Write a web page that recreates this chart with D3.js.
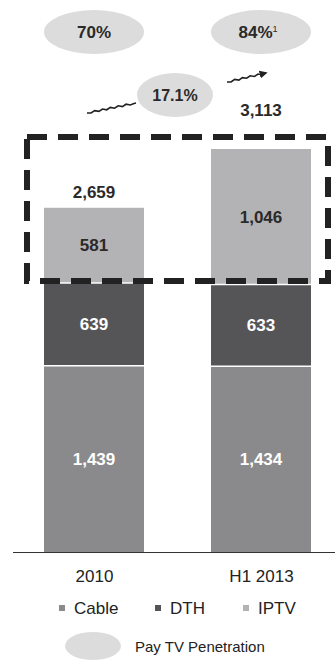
<!DOCTYPE html>
<html>
<head>
<meta charset="utf-8">
<script src="https://cdn.jsdelivr.net/npm/d3@7"></script>
<style>
  html, body { margin: 0; padding: 0; background: #fff; }
  svg { display: block; font-family: "Liberation Sans", Arial, sans-serif; }
</style>
</head>
<body>
<svg id="chart" width="335" height="664"></svg>
<script>
// Pay TV subscribers (thousands) by platform
const categories = ["2010", "H1 2013"];
const seriesNames = ["Cable", "DTH", "IPTV"];
const cable = [1439, 1434];
const dth = [639, 633];
const iptv = [581, 1046];
const totals = [2659, 3113];
const totalLabels = ["2,659", "3,113"];
const penetration = ["70%", "84%"];
const growthLabel = "17.1%";
const seriesColors = ["#8a8a8c", "#555557", "#b3b3b5"];
const labelColors = ["#ffffff", "#ffffff", "#2a2a2a"];

const svg = d3.select("#chart");
const baseY = 552;

const x = d3.scalePoint().domain(categories).range([94, 261]);
const y = d3.scaleLinear().domain([0, d3.max(totals)]).range([baseY, 149]);

const rows = categories.map((c, i) => ({ cat: c, Cable: cable[i], DTH: dth[i], IPTV: iptv[i] }));
const stacked = d3.stack().keys(seriesNames)(rows);

// bars
const bw = 100;
const cx = c => x(c);
stacked.forEach((layer, li) => {
  svg.append("g").selectAll("rect").data(layer).join("rect")
    .attr("x", d => cx(d.data.cat) - bw / 2)
    .attr("width", bw)
    .attr("y", d => y(d[1]))
    .attr("height", d => y(d[0]) - y(d[1]))
    .attr("fill", seriesColors[li]);
  // thin white separators between segments
  if (li > 0) {
    svg.append("g").selectAll("line").data(layer).join("line")
      .attr("x1", d => cx(d.data.cat) - bw / 2).attr("x2", d => cx(d.data.cat) + bw / 2)
      .attr("y1", d => y(d[0])).attr("y2", d => y(d[0]))
      .attr("stroke", "#fff").attr("stroke-width", 1.5);
  }
  svg.append("g").selectAll("text").data(layer).join("text")
    .attr("x", d => cx(d.data.cat))
    .attr("y", d => (y(d[0]) + y(d[1])) / 2 + 6)
    .attr("text-anchor", "middle")
    .attr("font-size", 17).attr("font-weight", "bold")
    .attr("fill", labelColors[li])
    .text(d => d3.format(",")(d[1] - d[0]));
});

// totals above bars
svg.append("g").selectAll("text").data(categories).join("text")
  .attr("x", c => cx(c))
  .attr("y", (c, i) => y(totals[i]) - (i === 0 ? 10 : 33))
  .attr("text-anchor", "middle")
  .attr("font-size", 17).attr("font-weight", "bold").attr("fill", "#2a2a2a")
  .text((c, i) => totalLabels[i]);

// baseline axis
svg.append("line").attr("x1", 13).attr("x2", 335).attr("y1", baseY + 0.5).attr("y2", baseY + 0.5)
  .attr("stroke", "#333").attr("stroke-width", 1.2);
const xAxis = d3.axisBottom(x).tickSize(0).tickPadding(18);
const ax = svg.append("g").attr("transform", `translate(0,${baseY})`).call(xAxis);
ax.select(".domain").remove();
ax.selectAll("text").attr("font-size", 17).attr("fill", "#222")
  .attr("font-family", "'Liberation Sans', Arial, sans-serif");

// dashed highlight box around the IPTV segments
svg.append("rect")
  .attr("x", 27).attr("y", 137).attr("width", 301).attr("height", 144)
  .attr("fill", "none").attr("stroke", "#222").attr("stroke-width", 6)
  .attr("stroke-dasharray", "20 11");

// penetration ellipses
const ellFill = "#dcdcdc";
categories.forEach((c, i) => {
  svg.append("ellipse").attr("cx", cx(c)).attr("cy", 32).attr("rx", 50).attr("ry", 22).attr("fill", ellFill);
  const t = svg.append("text").attr("x", cx(c) + (i === 1 ? -3 : 0)).attr("y", 38)
    .attr("text-anchor", "middle").attr("font-size", 17).attr("font-weight", "bold").attr("fill", "#2a2a2a")
    .text(penetration[i]);
  if (i === 1) t.append("tspan").attr("font-size", 9).attr("dy", -6).attr("font-weight", "normal").text("1");
});

// growth arrow (wavy) with CAGR bubble
function wavy(x0, y0, x1, y1, step, amp) {
  const len = Math.hypot(x1 - x0, y1 - y0);
  const n = Math.floor(len / step);
  const ux = (x1 - x0) / len, uy = (y1 - y0) / len;
  const pts = [];
  for (let k = 0; k <= n; k++) {
    const off = k === 0 || k === n ? 0 : (k % 2 ? amp : -amp);
    pts.push([x0 + ux * k * step - uy * off, y0 + uy * k * step + ux * off]);
  }
  pts.push([x1, y1]);
  return d3.line()(pts);
}
svg.append("defs").append("marker").attr("id", "arr").attr("viewBox", "0 0 10 10")
  .attr("refX", 8).attr("refY", 5).attr("markerWidth", 5).attr("markerHeight", 5).attr("orient", "auto")
  .append("path").attr("d", "M0,0 L10,5 L0,10 z").attr("fill", "#222");
svg.append("path").attr("d", wavy(87, 113, 136, 103, 4, 0.8))
  .attr("fill", "none").attr("stroke", "#222").attr("stroke-width", 1.6);
svg.append("path").attr("d", wavy(227, 82, 266, 73, 4, 0.8))
  .attr("fill", "none").attr("stroke", "#222").attr("stroke-width", 1.6).attr("marker-end", "url(#arr)");
svg.append("ellipse").attr("cx", 175).attr("cy", 95).attr("rx", 38).attr("ry", 22).attr("fill", ellFill);
svg.append("text").attr("x", 175).attr("y", 101).attr("text-anchor", "middle")
  .attr("font-size", 16).attr("font-weight", "bold").attr("fill", "#2a2a2a").text(growthLabel);

// legend
const legendX = [62, 158, 246];
const lg = svg.append("g");
seriesNames.forEach((s, i) => {
  lg.append("rect").attr("x", legendX[i] - 3).attr("y", 605).attr("width", 6).attr("height", 6).attr("fill", seriesColors[i]);
  lg.append("text").attr("x", legendX[i] + 12).attr("y", 614).attr("font-size", 17).attr("fill", "#222").text(s);
});
lg.append("ellipse").attr("cx", 93).attr("cy", 646).attr("rx", 28).attr("ry", 14).attr("fill", ellFill);
lg.append("text").attr("x", 135).attr("y", 652).attr("font-size", 15).attr("fill", "#222").text("Pay TV Penetration");
</script>
</body>
</html>
